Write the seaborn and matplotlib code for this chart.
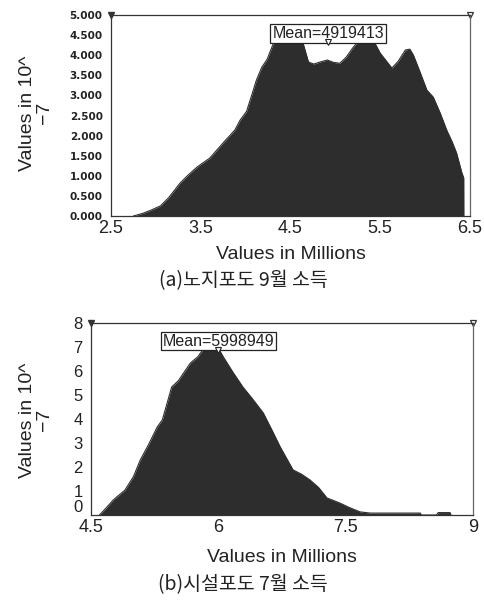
import numpy as np
import matplotlib
matplotlib.use("Agg")
import matplotlib.pyplot as plt
import seaborn as sns
import pandas as pd

sns.set_theme(style="white")
plt.rcParams['font.family'] = ['Liberation Sans', 'Noto Sans CJK KR', 'DejaVu Sans']

# ---- data (a) 노지포도 9월 소득 ----
xa = [2.75, 2.86, 2.95, 3.05, 3.14, 3.2, 3.27, 3.36, 3.46, 3.6, 3.75, 3.88, 3.94, 4.01,
      4.06, 4.12, 4.18, 4.24, 4.31, 4.38, 4.45, 4.52, 4.58, 4.64, 4.70, 4.76, 4.83, 4.91,
      4.98, 5.05, 5.12, 5.20, 5.27, 5.33, 5.38, 5.44, 5.50, 5.57, 5.63, 5.70, 5.78, 5.83,
      5.87, 5.94, 6.02, 6.09, 6.17, 6.24, 6.30, 6.35, 6.41, 6.43, 6.431]
ya = [0.0, 0.07, 0.15, 0.25, 0.45, 0.62, 0.82, 1.02, 1.22, 1.44, 1.82, 2.14, 2.39, 2.6,
      2.95, 3.38, 3.7, 3.9, 4.3, 4.55, 4.62, 4.6, 4.5, 4.3, 3.83, 3.78, 3.83, 3.88,
      3.82, 3.80, 3.95, 4.2, 4.38, 4.45, 4.42, 4.3, 4.05, 3.85, 3.68, 3.85, 4.13, 4.15,
      4.0, 3.6, 3.13, 2.96, 2.55, 2.14, 1.85, 1.57, 1.07, 0.95, 0.0]
mean_a = 4919413
xticks_a = [2.5, 3.5, 4.5, 5.5, 6.5]
xticklabels_a = ["2.5", "3.5", "4.5", "5.5", "6.5"]
yticks_a = [0, 0.5, 1, 1.5, 2, 2.5, 3, 3.5, 4, 4.5, 5]

# ---- data (b) 시설포도 7월 소득 ----
xb = [4.6, 4.68, 4.76, 4.9, 5.0, 5.08, 5.18, 5.28, 5.34, 5.45, 5.53, 5.67, 5.76, 5.82,
      5.90, 6.0, 6.06, 6.17, 6.29, 6.40, 6.53, 6.63, 6.73, 6.88, 6.98, 7.08, 7.18, 7.28,
      7.43, 7.55, 7.67, 7.79, 8.0, 8.2, 8.38, 8.39, 8.57, 8.59, 8.73, 8.74]
yb = [0.0, 0.3, 0.62, 1.04, 1.6, 2.29, 2.95, 3.67, 3.96, 5.33, 5.6, 6.33, 6.6, 6.9,
      7.0, 6.95, 6.58, 5.96, 5.33, 4.85, 4.25, 3.55, 2.83, 1.88, 1.7, 1.46, 1.15, 0.71,
      0.5, 0.3, 0.13, 0.08, 0.08, 0.08, 0.08, 0.0, 0.0, 0.1, 0.1, 0.0]
mean_b = 5998949
xticks_b = [4.5, 6, 7.5, 9]
xticklabels_b = ["4.5", "6", "7.5", "9"]
yticks_b = [0, 1, 2, 3, 4, 5, 6, 7, 8]

FILL = "#2d2d2d"
W, H = 485, 603
fig = plt.figure(figsize=(W / 100, H / 100), dpi=100)


def add_ax(l, r, t, b):
    return fig.add_axes([l / W, 1 - b / H, (r - l) / W, (b - t) / H])


def draw(ax, x, y, xlim, ylim, xticks, xtl, yticks, ytl, ytick_font, mean, box_y, tri_y,
         xlabel_y, caption, caption_y, ylab_xy, lift_zero):
    df = pd.DataFrame({"x": x, "y": y})
    sns.lineplot(data=df, x="x", y="y", ax=ax, color=FILL, linewidth=0.8, sort=False)
    ax.fill_between(df["x"], 0, df["y"], color=FILL, linewidth=0)
    ax.set_xlim(*xlim)
    ax.set_ylim(*ylim)
    ax.set_xticks(xticks)
    ax.set_xticklabels(xtl, fontsize=13)
    ax.set_yticks(yticks)
    ax.set_yticklabels(ytl, **ytick_font)
    if lift_zero:
        ax.get_yticklabels()[0].set_va('bottom')
    ax.tick_params(axis='x', direction='in', length=2, width=0.8, pad=3, colors='#222222')
    ax.tick_params(axis='y', direction='out', length=5, width=0.9, pad=1, colors='#222222')
    for s in ax.spines.values():
        s.set_color('#333333')
        s.set_linewidth(0.9)
    ax.spines['right'].set_color('#666666')
    ax.set_ylabel("")
    ax.set_xlabel("Values in Millions", fontsize=14, color='#222222', va='center')
    ax.xaxis.set_label_coords(0.5, xlabel_y)
    # corner markers
    ax.plot([0], [1], marker='v', ms=5, color='#333333', transform=ax.transAxes, clip_on=False)
    ax.plot([1], [1], marker='v', ms=5, mfc='white', mec='#333333', mew=0.9,
            transform=ax.transAxes, clip_on=False)
    # mean marker and label
    m = mean / 1e6
    ax.plot([m], [tri_y], marker='v', ms=4, mfc='white', mec='#222222', mew=0.8, zorder=6)
    ax.text(m, box_y, f"Mean={mean}", fontsize=11.5, ha='center', va='center', color='#222222',
            zorder=5,
            bbox=dict(boxstyle='square,pad=0.12', fc='white', ec='#222222', lw=0.9))
    fig.text(243 / W, 1 - caption_y / H, caption,
             fontsize=14, ha='center', va='center', color='#222222',
             family=['Noto Sans CJK KR', 'Liberation Sans'])
    fig.text(ylab_xy[0] / W, 1 - ylab_xy[1] / H, "Values in 10^\n\u22127", rotation=90,
             fontsize=14, ha='center', va='center', ma='center', color='#222222',
             linespacing=0.95)


ax1 = add_ax(111, 470, 15, 216)
draw(ax1, xa, ya, (2.5, 6.5), (0, 5), xticks_a, xticklabels_a, yticks_a,
     [f"{v:.3f}" for v in yticks_a],
     dict(fontsize=7.5, fontweight='bold', family='DejaVu Sans'),
     mean_a, 4.55, 4.33, -0.19, "(a)노지포도 9월 소득", 281, (36, 113), False)

ax2 = add_ax(91, 473, 323, 515)
draw(ax2, xb, yb, (4.5, 9), (0, 8), xticks_b, xticklabels_b, yticks_b,
     [str(v) for v in yticks_b],
     dict(fontsize=12),
     mean_b, 7.25, 6.88, -0.219, "(b)시설포도 7월 소득", 585, (36, 420), True)

fig.savefig("out.png", dpi=100)
